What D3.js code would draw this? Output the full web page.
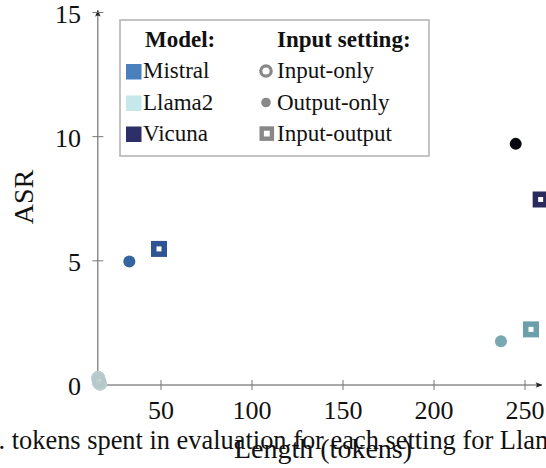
<!DOCTYPE html>
<html>
<head>
<meta charset="utf-8">
<script src="https://cdn.jsdelivr.net/npm/d3@7"></script>
<style>
  html, body { margin: 0; padding: 0; background: #fff; overflow: hidden; }
  svg { display: block; }
</style>
</head>
<body>
<script>
// ---------------- data ----------------
const models = ["Mistral", "Llama2", "Vicuna"];
const settings = ["Input-only", "Output-only", "Input-output"];
// length (tokens) and ASR per model, per setting
const inputOnlyLength  = [15.5, 16.5, 16.0];
const inputOnlyASR     = [0.28, 0.05, 0.14];
const outputOnlyLength = [32.6, 236.8, 244.9];
const outputOnlyASR    = [4.97, 1.76, 9.71];
const inputOutputLength = [48.9, 253.3, 258.6];
const inputOutputASR    = [5.48, 2.24, 7.47];
const xTicks = [50, 100, 150, 200, 250];
const yTicks = [0, 5, 10, 15];
const xAxisStart = 15.3, xAxisEnd = 259.2;

// ---------------- styles ----------------
const FONT = "'Liberation Serif', 'Times New Roman', Times, serif";
const legendColors = { Mistral: "#4a80bb", Llama2: "#c6e8ea", Vicuna: "#2e2f66" };
const markColors = {
  "Input-only":   { Mistral: "#b9cbcd", Llama2: "#bccfd1", Vicuna: "#b5c8ca" },
  "Output-only":  { Mistral: "#3565a0", Llama2: "#79a8b1", Vicuna: "#07070f" },
  "Input-output": { Mistral: "#2e5591", Llama2: "#6a9fab", Vicuna: "#2a2a5c" }
};

const W = 546, H = 468;
const svg = d3.select("body").append("svg").attr("width", W).attr("height", H)
  .attr("font-family", FONT);

const x = d3.scaleLinear().domain([0, 250]).range([70, 525]);
const y = d3.scaleLinear().domain([0, 15]).range([385, 12.5]);

const axisColor = "#555";
const g = svg.append("g");

svg.append("defs").append("marker")
  .attr("id", "arr").attr("viewBox", "0 0 10 10").attr("refX", 9).attr("refY", 5)
  .attr("markerWidth", 7).attr("markerHeight", 7).attr("markerUnits", "userSpaceOnUse")
  .attr("orient", "auto")
  .append("path").attr("d", "M0,1 Q4,5 0,9 L10,5 Z").attr("fill", "#222");

g.append("line").attr("x1", x(xAxisStart)).attr("x2", x(xAxisEnd))
  .attr("y1", y(0)).attr("y2", y(0))
  .attr("stroke", axisColor).attr("stroke-width", 1).attr("marker-end", "url(#arr)");
g.append("line").attr("x1", x(xAxisStart)).attr("x2", x(xAxisStart))
  .attr("y1", y(0)).attr("y2", y(15) - 2)
  .attr("stroke", axisColor).attr("stroke-width", 1).attr("marker-end", "url(#arr)");

function txt(sel) { return sel.append("text").attr("font-family", FONT).attr("fill", "#111"); }

xTicks.forEach(t => {
  g.append("line").attr("x1", x(t)).attr("x2", x(t)).attr("y1", y(0) - 5).attr("y2", y(0) + 5)
    .attr("stroke", "#777").attr("stroke-width", 1);
  txt(g).attr("x", x(t)).attr("y", y(0) + 34).attr("text-anchor", "middle")
    .attr("font-size", 26).text(t);
});
yTicks.forEach(t => {
  g.append("line").attr("x1", x(xAxisStart) - 5.5).attr("x2", x(xAxisStart) + 5.5)
    .attr("y1", y(t)).attr("y2", y(t)).attr("stroke", "#777").attr("stroke-width", 1);
  txt(g).attr("x", 81).attr("y", y(t) + 10).attr("text-anchor", "end")
    .attr("font-size", 26).text(t);
});

txt(g).attr("transform", "translate(33,197) rotate(-90)").attr("text-anchor", "middle")
  .attr("font-size", 28).text("ASR");

// caption of the source figure (partially visible, behind the x title)
txt(svg).attr("x", -1.5).attr("y", 449).attr("font-size", 26.4)
  .text(". tokens spent in evaluation for each setting for Llama2");

txt(svg).attr("x", 323).attr("y", 458).attr("text-anchor", "middle")
  .attr("font-size", 28).text("Length (tokens)");

// ---------------- legend ----------------
const lg = svg.append("g");
lg.append("rect").attr("x", 120).attr("y", 20).attr("width", 309).attr("height", 136)
  .attr("fill", "#fff").attr("stroke", "#b0b0b0").attr("stroke-width", 1.5);
txt(lg).attr("x", 145).attr("y", 47).attr("font-size", 23).attr("font-weight", "bold").text("Model:");
txt(lg).attr("x", 277).attr("y", 47).attr("font-size", 23).attr("font-weight", "bold").text("Input setting:");
const rowY = [78, 109.5, 140.5];
models.forEach((m, i) => {
  lg.append("rect").attr("x", 126).attr("y", rowY[i] - 14).attr("width", 15.5).attr("height", 15.5)
    .attr("fill", legendColors[m]);
  txt(lg).attr("x", 143).attr("y", rowY[i]).attr("font-size", 23).text(m);
});
const legGray = "#888";
lg.append("circle").attr("cx", 266).attr("cy", rowY[0] - 7).attr("r", 5.2)
  .attr("fill", "#fff").attr("stroke", legGray).attr("stroke-width", 3.2);
lg.append("circle").attr("cx", 266).attr("cy", rowY[1] - 7).attr("r", 4.8).attr("fill", legGray);
lg.append("rect").attr("x", 261.7).attr("y", rowY[2] - 12).attr("width", 10.2).attr("height", 10.2)
  .attr("fill", "#fff").attr("stroke", legGray).attr("stroke-width", 4.4);
settings.forEach((s, i) => {
  txt(lg).attr("x", 277).attr("y", rowY[i]).attr("font-size", 23).text(s);
});

// ---------------- marks ----------------
const pts = svg.append("g");
models.forEach((m, i) => {
  pts.append("circle").attr("cx", x(inputOnlyLength[i])).attr("cy", y(inputOnlyASR[i])).attr("r", 5.2)
    .attr("fill", "none").attr("stroke", markColors["Input-only"][m]).attr("stroke-width", 4);
});
models.forEach((m, i) => {
  pts.append("circle").attr("cx", x(outputOnlyLength[i])).attr("cy", y(outputOnlyASR[i])).attr("r", 6)
    .attr("fill", markColors["Output-only"][m]);
});
models.forEach((m, i) => {
  const s = 10.5;
  pts.append("rect").attr("x", x(inputOutputLength[i]) - s / 2).attr("y", y(inputOutputASR[i]) - s / 2)
    .attr("width", s).attr("height", s)
    .attr("fill", "#fff").attr("stroke", markColors["Input-output"][m]).attr("stroke-width", 5.5);
});
</script>
</body>
</html>
